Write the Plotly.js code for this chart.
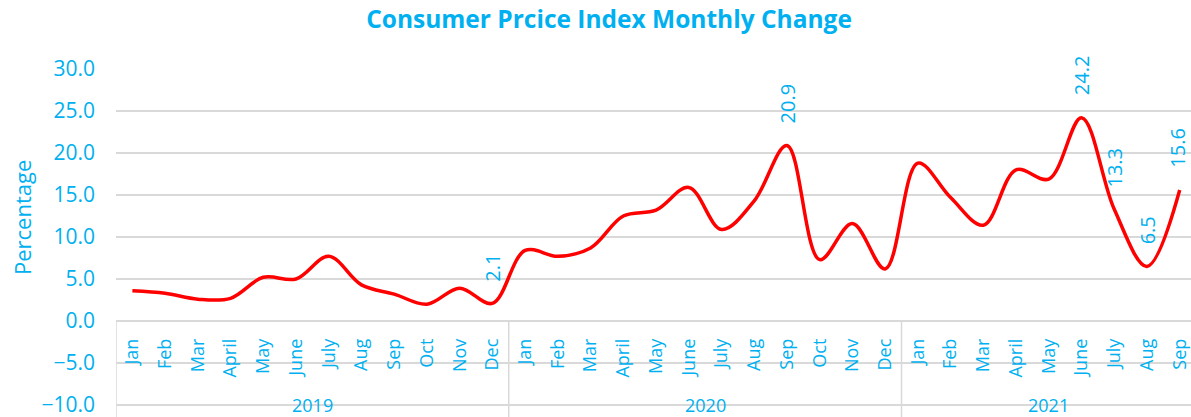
<!DOCTYPE html>
<html>
<head>
<meta charset="utf-8">
<script src="https://cdn.plot.ly/plotly-3.0.1.min.js"></script>
<style>html,body{margin:0;padding:0;background:#fff;overflow:hidden;}#chart{width:1191px;height:417px;}</style>
</head>
<body>
<div id="chart"></div>
<script>
// ---- data ----
const years = ['2019', '2020', '2021'];
const months2019 = ['Jan','Feb','Mar','April','May','June','July','Aug','Sep','Oct','Nov','Dec'];
const months2020 = ['Jan','Feb','Mar','April','May','June','July','Aug','Sep','Oct','Nov','Dec'];
const months2021 = ['Jan','Feb','Mar','April','May','June','July','Aug','Sep'];
const values2019 = [3.6, 3.3, 2.6, 2.7, 5.2, 5.0, 7.7, 4.3, 3.2, 2.0, 3.9, 2.1];
const values2020 = [8.4, 7.7, 8.7, 12.5, 13.2, 15.9, 10.9, 14.3, 20.9, 7.3, 11.6, 6.2];
const values2021 = [18.8, 14.7, 11.4, 18.0, 16.9, 24.2, 13.3, 6.5, 15.6];
// data labels shown only on these points: [year, month]
const labelledPoints = [['2019','Dec'], ['2020','Sep'], ['2021','June'], ['2021','July'], ['2021','Aug'], ['2021','Sep']];
const yTicks = [-10, -5, 0, 5, 10, 15, 20, 25, 30];

// ---- build ----
const groups = [months2019, months2020, months2021];
const groupVals = [values2019, values2020, values2021];
const x = [], y = [], tickText = [], yearOf = [];
groups.forEach((ms, gi) => ms.forEach((m, mi) => {
  x.push(x.length); y.push(groupVals[gi][mi]); tickText.push(m); yearOf.push(years[gi]);
}));

const BLUE = '#00B0F0';
const GRID = '#D9D9D9';
const FONT = 'Open Sans, sans-serif';
const yMin = -11.43, yMax = 30;
const xMin = -0.5, xMax = 32.345;

const annotations = [];
labelledPoints.forEach(([yr, m]) => {
  const i = x.findIndex(k => yearOf[k] === yr && tickText[k] === m);
  annotations.push({
    x: x[i], y: y[i], xref: 'x', yref: 'y', text: y[i].toFixed(1),
    showarrow: false, textangle: -90, yanchor: 'bottom', xanchor: 'center', yshift: 21,
    xshift: (i === x.length - 1) ? -2 : 0,
    borderpad: 0, font: {family: FONT, size: 20, color: BLUE}
  });
});
const shapes = [];
let start = 0;
groups.forEach((ms, gi) => {
  const end = start + ms.length - 1;
  annotations.push({
    x: (start + end) / 2, y: -10, xref: 'x', yref: 'y', text: years[gi],
    showarrow: false, font: {family: FONT, size: 18, color: BLUE}
  });
  shapes.push({type: 'line', xref: 'x', yref: 'y', x0: start - 0.5, x1: start - 0.5, y0: 0, y1: yMin,
    line: {color: GRID, width: 1.5}});
  start = end + 1;
});
annotations.push({
  xref: 'paper', yref: 'paper', x: (22 - 116) / 1075, y: (417 - 218) / 348,
  text: 'Percentage', textangle: -90, showarrow: false, xanchor: 'center', yanchor: 'middle',
  font: {family: FONT, size: 22, color: BLUE}
});

const trace = {
  x: x, y: y, type: 'scatter', mode: 'lines',
  line: {color: '#FF0000', width: 3.5, shape: 'spline', smoothing: 1},
  hoverinfo: 'skip'
};

const layout = {
  width: 1191, height: 417,
  margin: {l: 116, r: 0, t: 69, b: 0, pad: 0},
  paper_bgcolor: '#fff', plot_bgcolor: '#fff',
  showlegend: false,
  title: {
    text: '<b>Consumer Prcice Index Monthly Change</b>',
    x: 609 / 1191, xanchor: 'center', y: 1 - 19 / 417, yanchor: 'middle',
    font: {family: FONT, size: 24.5, color: BLUE}
  },
  xaxis: {
    range: [xMin, xMax], anchor: 'free', position: (0 - yMin) / (yMax - yMin),
    tickvals: x, ticktext: tickText, tickangle: -90, ticks: '',
    showgrid: false, zeroline: false, showline: true, linecolor: GRID, linewidth: 1.5,
    tickfont: {family: FONT, size: 18, color: BLUE}, ticklabelstandoff: 9
  },
  yaxis: {
    range: [yMin, yMax], tickvals: yTicks, tickformat: '.1f', ticks: '',
    showgrid: true, gridcolor: GRID, gridwidth: 1.5, zeroline: false, showline: false,
    tickfont: {family: FONT, size: 21, color: BLUE}, ticklabelstandoff: 20,
    ticklabeloverflow: 'allow'
  },
  annotations: annotations,
  shapes: shapes
};

Plotly.newPlot('chart', [trace], layout, {displayModeBar: false, staticPlot: true});
</script>
</body>
</html>
